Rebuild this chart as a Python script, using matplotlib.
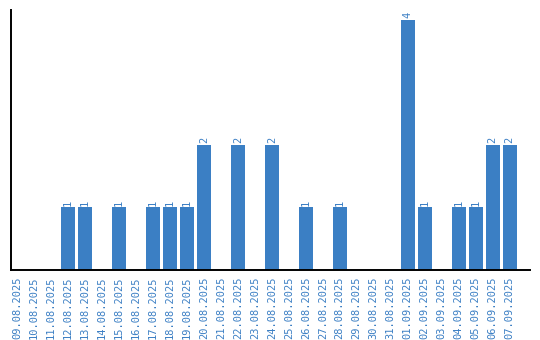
import matplotlib
matplotlib.use("Agg")
import matplotlib.pyplot as plt

# daily counts
dates = ["09.08.2025", "10.08.2025", "11.08.2025", "12.08.2025", "13.08.2025",
         "14.08.2025", "15.08.2025", "16.08.2025", "17.08.2025", "18.08.2025",
         "19.08.2025", "20.08.2025", "21.08.2025", "22.08.2025", "23.08.2025",
         "24.08.2025", "25.08.2025", "26.08.2025", "27.08.2025", "28.08.2025",
         "29.08.2025", "30.08.2025", "31.08.2025", "01.09.2025", "02.09.2025",
         "03.09.2025", "04.09.2025", "05.09.2025", "06.09.2025", "07.09.2025"]
counts = [0, 0, 0, 1, 1, 0, 1, 0, 1, 1,
          1, 2, 0, 2, 0, 2, 0, 1, 0, 1,
          0, 0, 0, 4, 1, 0, 1, 1, 2, 2]

BLUE = "#3b7fc4"

fig = plt.figure(figsize=(5.4, 3.4), dpi=100)
ax = fig.add_axes([0.0204, 0.2059, 0.9611, 0.7647])

x = list(range(len(dates)))
ax.bar(x, counts, width=0.82, color=BLUE)

# value labels on top of non-empty bars
for xi, c in zip(x, counts):
    if c > 0:
        ax.text(xi, c + 0.03, str(c), rotation=90, ha="center", va="bottom",
                color=BLUE, fontsize=7.5, family="DejaVu Sans Mono")

ax.set_xlim(-0.35, 30.2)
ax.set_ylim(0, 4.16)
ax.set_xticks(x)
ax.set_xticklabels(dates, rotation=90, color=BLUE, fontsize=7.5, family="DejaVu Sans Mono")
ax.tick_params(axis="x", length=0, pad=5)
ax.set_yticks([])
for s in ["top", "right"]:
    ax.spines[s].set_visible(False)
ax.spines["left"].set_linewidth(1.4)
ax.spines["bottom"].set_linewidth(1.4)

fig.savefig("out.png", dpi=100)
